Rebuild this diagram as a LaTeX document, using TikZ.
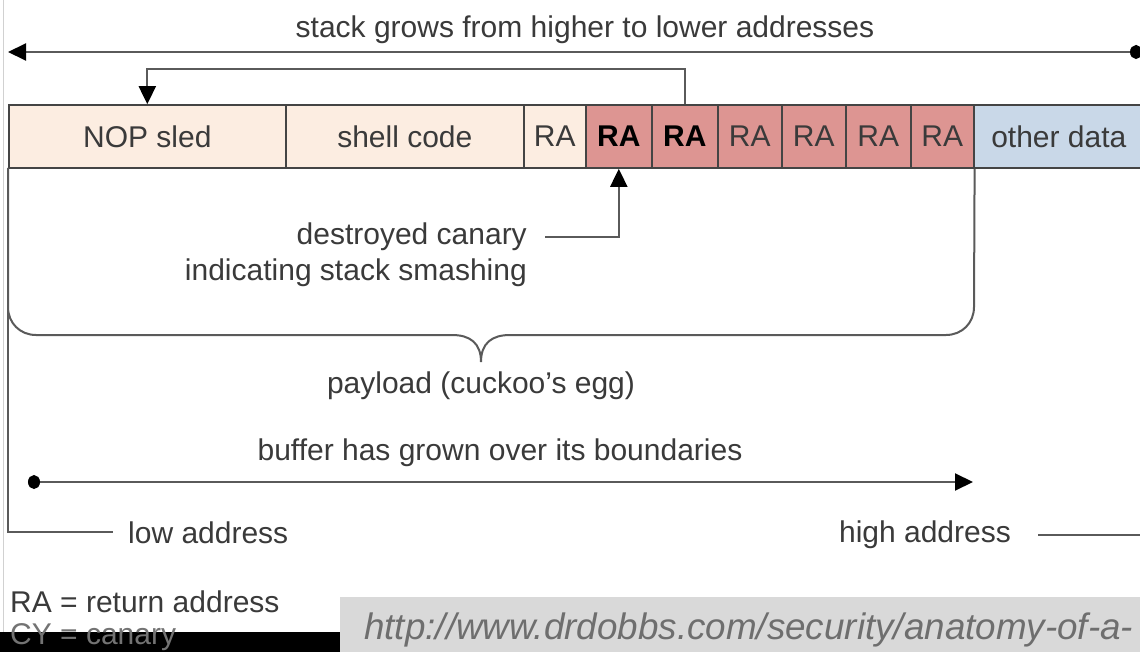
\documentclass[tikz,border=0pt]{standalone}
\usepackage{fontspec}
\setmainfont{Liberation Sans}
\usetikzlibrary{arrows.meta}
\definecolor{peach}{HTML}{FCEDE1}
\definecolor{redcell}{HTML}{DD9592}
\definecolor{bluecell}{HTML}{C9D8E8}
\definecolor{boxline}{HTML}{444444}
\definecolor{linecol}{HTML}{5A5A5A}
\definecolor{txt}{HTML}{3A3A3A}
\definecolor{urlgray}{HTML}{D9D9D9}
\definecolor{urltxt}{HTML}{6E6E6E}
\newcommand\labfont{\fontsize{30}{36}\selectfont}
\tikzset{
  tipT/.tip={Triangle[length=18pt,width=17pt,color=black]},
  dotC/.tip={Circle[length=12pt,width=14pt,color=black]}
}
\begin{document}
\begin{tikzpicture}[x=1pt,y=-1pt,
  cell/.style={draw=boxline, line width=1.6pt, minimum height=63pt, inner sep=0pt, anchor=west, font=\labfont, text=txt},
  bcell/.style={cell, fill=redcell, font=\labfont\bfseries, text=black},
  rcell/.style={cell, fill=redcell},
  pcell/.style={cell, fill=peach},
  lbl/.style={font=\labfont, text=txt, inner sep=0pt},
  conn/.style={draw=linecol, line width=2pt}
]
\useasboundingbox (0,0) rectangle (1140,652);
\clip (0,0) rectangle (1140,652);
\fill[white] (0,0) rectangle (1140,652);
% faint edge line
\draw[line width=1pt, draw=black!18] (3,0) -- (3,652);

% top arrow
\coordinate (tl) at (8,52);
\coordinate (tr) at (1142,52);
\draw[conn, tipT-dotC] (tl) -- (tr);
\node[lbl] (stack) at (585,30) {stack grows from higher to lower addresses};

% cells
\node[pcell, minimum width=277pt] (nop) at (8,136.5) {NOP sled};
\node[pcell, minimum width=238pt] (shell) at (285,136.5) {shell code};
\node[pcell, minimum width=62pt] (ra1) at (523,136.5) {RA};
\node[bcell, minimum width=66pt] (ra2) at (585,136.5) {RA};
\node[bcell, minimum width=66pt] (ra3) at (651,136.5) {RA};
\node[rcell, minimum width=64pt] (ra4) at (717,136.5) {RA};
\node[rcell, minimum width=64pt] (ra5) at (781,136.5) {RA};
\node[rcell, minimum width=65pt] (ra6) at (845,136.5) {RA};
\node[rcell, minimum width=63pt] (ra7) at (910,136.5) {RA};
\node[cell, fill=bluecell, minimum width=170pt] (other) at (973,136.5) {other data};

% loop connector
\draw[conn, -tipT] (ra3.north) -- ++(0,-35) -| (nop.north);

% destroyed canary
\node[lbl, align=right, anchor=east] (dc) at (527,255) {destroyed canary\\indicating stack smashing};
\coordinate (dcl) at (545,237);
\draw[conn, -tipT] (dcl) -| (ra2.south);

% brace
\coordinate (btip) at (481,362);
\draw[conn] (8,168) -- (8,307) .. controls (8,323) and (20,335) .. (36,335)
  -- (452,335) .. controls (470,335) and (481,343) .. (btip)
  .. controls (481,343) and (492,335) .. (510,335)
  -- (946,335) .. controls (962,335) and (974,323) .. (974,307) -- (ra7.south east);
\node[lbl] (payload) at (481,386) {payload (cuckoo{\char"27}s egg)};

% buffer arrow
\node[lbl] (buf) at (500,453) {buffer has grown over its boundaries};
\coordinate (bs) at (28,482);
\coordinate (be) at (973,482);
\draw[conn, dotC-tipT] (bs) -- (be);

% low / high address
\coordinate (lowend) at (113,532);
\draw[conn] (nop.south west) |- (lowend);
\node[lbl, anchor=west] (low) at (128,533) {low address};
\node[lbl] (high) at (925,535) {high address};
\coordinate (hs) at (1038,535);
\coordinate (he) at (1142,535);
\draw[conn] (hs) -- (he);

% legend
\node[lbl, anchor=west] (leg1) at (10,602) {RA = return address};
\fill[black] (0,632) rectangle (340,652);
\node[lbl, anchor=west, text=black!55] (leg2) at (10,637) {CY = canary};

% url box
\fill[urlgray] (340,597) rectangle (1140,652);
\node[anchor=west, inner sep=0pt, font=\fontsize{36.8}{40}\selectfont\itshape, text=urltxt] (url) at (364,630) {http://www.drdobbs.com/security/anatomy-of-a-};
\end{tikzpicture}
\end{document}
